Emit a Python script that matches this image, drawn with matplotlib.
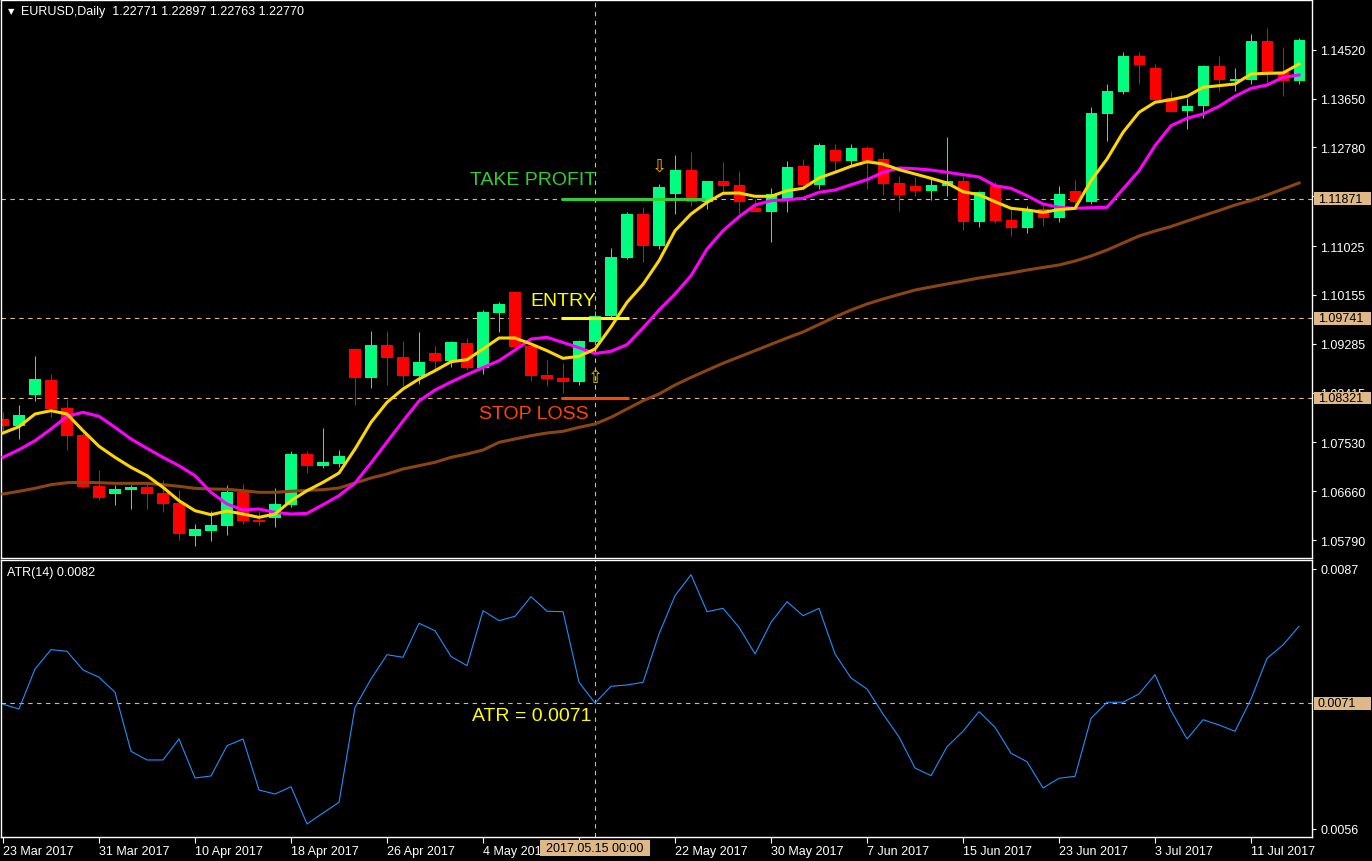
import matplotlib
matplotlib.use('Agg')
import matplotlib.pyplot as plt
import matplotlib.transforms as mtransforms
from matplotlib.patches import Rectangle
import numpy as np
import pandas as pd

# EURUSD daily candles, 23 Mar 2017 - 14 Jul 2017
dates = pd.bdate_range('2017-03-23', '2017-07-14')

opens = [1.07947, 1.07822, 1.08380, 1.08641, 1.08143, 1.07662, 1.06754, 1.06617, 1.06683, 1.06737,
         1.06630, 1.06452, 1.05870, 1.05959, 1.06048, 1.06648, 1.06149, 1.06190, 1.06422, 1.07324,
         1.07116, 1.07151, 1.09193, 1.08671, 1.09264, 1.09051, 1.08718, 1.09122, 1.08979, 1.09300,
         1.08860, 1.09839, 1.10213, 1.09241, 1.08730, 1.08677, 1.08611, 1.09312, 1.09786, 1.10813,
         1.11596, 1.11032, 1.11957, 1.12379, 1.11815, 1.12183, 1.12112, 1.11703, 1.11637, 1.11863,
         1.12445, 1.12118, 1.12735, 1.12539, 1.12771, 1.12575, 1.12148, 1.12094, 1.12011, 1.12100,
         1.12178, 1.11448, 1.12089, 1.11484, 1.11341, 1.11685, 1.11519, 1.12000, 1.11815, 1.13376,
         1.13773, 1.14408, 1.14189, 1.13666, 1.13435, 1.13518, 1.14230, 1.13969, 1.13981, 1.14675,
         1.14118, 1.13969]
highs = [1.08077, 1.08196, 1.09068, 1.08748, 1.08291, 1.07698, 1.07039, 1.06778, 1.06778, 1.06808,
         1.06861, 1.06678, 1.06078, 1.06304, 1.06772, 1.06790, 1.06315, 1.06719, 1.07383, 1.07383,
         1.07787, 1.07395, 1.09211, 1.09519, 1.09519, 1.09341, 1.09501, 1.09241, 1.09335, 1.09389,
         1.09887, 1.10024, 1.10225, 1.09247, 1.08997, 1.08938, 1.09353, 1.09875, 1.10991, 1.11637,
         1.11715, 1.12130, 1.12646, 1.12694, 1.12183, 1.12516, 1.12356, 1.11863, 1.12053, 1.12534,
         1.12575, 1.12854, 1.12837, 1.12842, 1.12812, 1.12694, 1.12278, 1.12249, 1.12249, 1.12972,
         1.12278, 1.12011, 1.12160, 1.11685, 1.11744, 1.11756, 1.12089, 1.12201, 1.13506, 1.13910,
         1.14474, 1.14474, 1.14266, 1.13791, 1.13655, 1.14254, 1.14414, 1.14195, 1.14805, 1.14907,
         1.14563, 1.14729]
lows = [1.07739, 1.07591, 1.08273, 1.07983, 1.07401, 1.06724, 1.06511, 1.06422, 1.06350, 1.06350,
        1.06297, 1.05799, 1.05692, 1.05781, 1.05888, 1.06078, 1.06066, 1.06030, 1.06375, 1.06986,
        1.07075, 1.07093, 1.08202, 1.08499, 1.08552, 1.08540, 1.08570, 1.08837, 1.08878, 1.08819,
        1.08748, 1.09490, 1.09229, 1.08629, 1.08534, 1.08404, 1.08552, 1.09282, 1.09763, 1.10795,
        1.10747, 1.10973, 1.11596, 1.11744, 1.11685, 1.11982, 1.11596, 1.11632, 1.11092, 1.11637,
        1.12041, 1.12041, 1.12338, 1.12456, 1.12041, 1.11934, 1.11655, 1.11922, 1.11845, 1.11922,
        1.11317, 1.11370, 1.11430, 1.11199, 1.11263, 1.11388, 1.11448, 1.11744, 1.11774, 1.12901,
        1.13732, 1.13910, 1.13584, 1.13412, 1.13109, 1.13299, 1.13791, 1.13791, 1.13910, 1.13910,
        1.13702, 1.13910]
closes = [1.07822, 1.08018, 1.08659, 1.08125, 1.07650, 1.06742, 1.06541, 1.06701, 1.06742, 1.06612,
          1.06439, 1.05905, 1.05989, 1.06060, 1.06648, 1.06137, 1.06119, 1.06434, 1.07324, 1.07116,
          1.07182, 1.07288, 1.08671, 1.09264, 1.09033, 1.08712, 1.08962, 1.08985, 1.09318, 1.08855,
          1.09852, 1.09989, 1.09234, 1.08712, 1.08664, 1.08611, 1.09341, 1.09786, 1.10836, 1.11596,
          1.11032, 1.12077, 1.12379, 1.11815, 1.12183, 1.12100, 1.11804, 1.11637, 1.11952, 1.12433,
          1.12112, 1.12824, 1.12539, 1.12771, 1.12545, 1.12135, 1.11940, 1.12011, 1.12112, 1.12178,
          1.11448, 1.11982, 1.11477, 1.11341, 1.11667, 1.11519, 1.11952, 1.11815, 1.13388, 1.13785,
          1.14408, 1.14254, 1.13625, 1.13417, 1.13513, 1.14230, 1.13981, 1.13999, 1.14675, 1.14118,
          1.13969, 1.14693]

# moving averages (yellow fast, magenta mid, brown slow)
ma_fast = [1.07698, 1.07810, 1.08036, 1.08095, 1.08036, 1.07739, 1.07461, 1.07265, 1.07087, 1.06938,
           1.06731, 1.06493, 1.06315, 1.06244, 1.06309, 1.06256, 1.06197, 1.06256, 1.06493, 1.06671,
           1.06820, 1.06986, 1.07413, 1.07888, 1.08244, 1.08481, 1.08659, 1.08807, 1.08967, 1.09003,
           1.09193, 1.09389, 1.09389, 1.09282, 1.09163, 1.09027, 1.09063, 1.09193, 1.09585, 1.10024,
           1.10345, 1.10765, 1.11299, 1.11596, 1.11804, 1.11964, 1.11970, 1.11911, 1.11911, 1.12011,
           1.12053, 1.12237, 1.12338, 1.12445, 1.12527, 1.12486, 1.12385, 1.12308, 1.12231, 1.12148,
           1.11993, 1.11940, 1.11815, 1.11697, 1.11667, 1.11626, 1.11673, 1.11697, 1.12189, 1.12575,
           1.13050, 1.13406, 1.13584, 1.13631, 1.13691, 1.13851, 1.13880, 1.13910, 1.14088, 1.14100,
           1.14106, 1.14266]
ma_mid = [1.07265, 1.07401, 1.07561, 1.07769, 1.07995, 1.08066, 1.07995, 1.07799, 1.07591, 1.07425,
          1.07265, 1.07116, 1.06938, 1.06642, 1.06434, 1.06327, 1.06345, 1.06286, 1.06256, 1.06268,
          1.06422, 1.06582, 1.06808, 1.07164, 1.07538, 1.07911, 1.08267, 1.08463, 1.08606, 1.08739,
          1.08862, 1.08985, 1.09175, 1.09371, 1.09401, 1.09309, 1.09216, 1.09113, 1.09152, 1.09271,
          1.09567, 1.09887, 1.10172, 1.10498, 1.10973, 1.11299, 1.11548, 1.11756, 1.11833, 1.11851,
          1.11875, 1.11982, 1.12023, 1.12118, 1.12207, 1.12338, 1.12415, 1.12402, 1.12379, 1.12338,
          1.12296, 1.12255, 1.12100, 1.12053, 1.11922, 1.11774, 1.11715, 1.11697, 1.11708, 1.11715,
          1.12041, 1.12367, 1.12812, 1.13168, 1.13299, 1.13376, 1.13513, 1.13691, 1.13833, 1.13892,
          1.14029, 1.14070]
ma_slow = [1.06612, 1.06660, 1.06713, 1.06778, 1.06813, 1.06820, 1.06813, 1.06802, 1.06802, 1.06802,
           1.06778, 1.06749, 1.06713, 1.06701, 1.06696, 1.06671, 1.06642, 1.06642, 1.06660, 1.06678,
           1.06689, 1.06719, 1.06808, 1.06897, 1.06968, 1.07057, 1.07116, 1.07176, 1.07265, 1.07324,
           1.07395, 1.07532, 1.07591, 1.07650, 1.07698, 1.07728, 1.07799, 1.07858, 1.07977, 1.08125,
           1.08273, 1.08392, 1.08552, 1.08687, 1.08814, 1.08940, 1.09051, 1.09163, 1.09277, 1.09389,
           1.09496, 1.09629, 1.09763, 1.09887, 1.09994, 1.10083, 1.10163, 1.10243, 1.10297, 1.10350,
           1.10403, 1.10457, 1.10501, 1.10546, 1.10599, 1.10644, 1.10688, 1.10759, 1.10848, 1.10955,
           1.11080, 1.11204, 1.11293, 1.11373, 1.11471, 1.11566, 1.11658, 1.11756, 1.11836, 1.11934,
           1.12041, 1.12148]

atr = [0.007087, 0.007031, 0.007508, 0.007738, 0.007719, 0.007496, 0.007409, 0.007230, 0.006526, 0.006423,
       0.006423, 0.006673, 0.006208, 0.006232, 0.006593, 0.006673, 0.006065, 0.006017, 0.006104, 0.005660,
       0.005791, 0.005918, 0.007051, 0.007388, 0.007678, 0.007647, 0.008053, 0.007964, 0.007657, 0.007547,
       0.008203, 0.008084, 0.008136, 0.008370, 0.008196, 0.008191, 0.007349, 0.007102, 0.007301, 0.007317,
       0.007349, 0.007925, 0.008382, 0.008632, 0.008191, 0.008231, 0.008005, 0.007687, 0.008064, 0.008310,
       0.008143, 0.008231, 0.007687, 0.007400, 0.007269, 0.006971, 0.006697, 0.006327, 0.006236, 0.006581,
       0.006765, 0.006999, 0.006813, 0.006503, 0.006402, 0.006089, 0.006205, 0.006228, 0.006920, 0.007111,
       0.007111, 0.007210, 0.007440, 0.007011, 0.006673, 0.006903, 0.006840, 0.006765, 0.007150, 0.007635,
       0.007794, 0.008017]

price_ticks = [1.14520, 1.13650, 1.12780, 1.11910, 1.11025, 1.10155, 1.09285, 1.08415, 1.07530, 1.06660, 1.05790]
atr_ticks = [0.0087, 0.0056]

take_profit = 1.11871
entry = 1.09741
stop_loss = 1.08321
atr_level = 0.0071
signal_bar = 37

plt.rcParams['font.family'] = ['Liberation Sans', 'DejaVu Sans']

W, H = 1372, 862
fig = plt.figure(figsize=(W / 100, H / 100), dpi=100, facecolor='black')
ax = fig.add_axes([1 / W, 1 - 559 / H, 1311 / W, 558 / H], facecolor='black')
ax2 = fig.add_axes([1 / W, 1 - 838 / H, 1311 / W, 277 / H], facecolor='black')

x = np.arange(len(opens))
o = np.array(opens)
c = np.array(closes)
up = c >= o
colors = np.where(up, '#00ff80', '#ff0000')

# candles
ax.vlines(x, lows, highs, colors=colors, lw=0.75, zorder=2)
body = np.maximum(np.abs(c - o), 0.00012)
ax.bar(x, body, bottom=np.minimum(o, c), width=0.69, color=colors, linewidth=0, zorder=2)

# moving averages
ax.plot(x, ma_slow, color='#8b4513', lw=2.2, zorder=3)
ax.plot(x, ma_mid, color='#ff00ff', lw=2.2, zorder=3)
ax.plot(x, ma_fast, color='#ffd700', lw=2.2, zorder=3)

# dashed levels and crosshair
dash = dict(color='#deb887', lw=0.8, ls=(0, (4, 4)), zorder=1)
for lvl in (take_profit, entry, stop_loss):
    ax.axhline(lvl, **dash)
ax.axvline(signal_bar, **dash)
ax2.axhline(atr_level, **dash)
ax2.axvline(signal_bar, **dash)

# trade annotations
ax.hlines(take_profit, 34.9, 43.9, color='#32cd32', lw=2.2, zorder=4)
ax.hlines(entry, 34.9, 39.1, color='#ffff00', lw=2.2, zorder=4)
ax.hlines(stop_loss, 34.9, 39.1, color='#ff4500', lw=2.2, zorder=4)
ax.text(37.1, take_profit + 0.0034, 'TAKE PROFIT', color='#32cd32', fontsize=14,
        ha='right', va='center', zorder=5)
ax.text(37.1, entry + 0.0032, 'ENTRY', color='#ffff00', fontsize=14,
        ha='right', va='center', zorder=5)
ax.text(36.6, stop_loss - 0.0027, 'STOP LOSS', color='#ff4500', fontsize=14,
        ha='right', va='center', zorder=5)
ax.text(signal_bar, 1.0870, '\u21e7', color='#d8c000', fontsize=13,
        ha='center', va='center', family='DejaVu Sans', zorder=5)
ax.text(41, 1.1246, '\u21e9', color='#ffa500', fontsize=13,
        ha='center', va='center', family='DejaVu Sans', zorder=5)

# ATR
ax2.plot(x, atr, color='#1e90ff', lw=0.8, zorder=3)
ax2.text(36.75, 0.00695, 'ATR = 0.0071', color='#ffff00', fontsize=14,
         ha='right', va='center', zorder=5)

# axes styling
xlim = (-0.125, 81.81)
for a in (ax, ax2):
    a.set_xlim(*xlim)
    for s in a.spines.values():
        s.set_color('white')
        s.set_linewidth(1)
    a.yaxis.tick_right()
    a.tick_params(axis='y', colors='white', labelsize=9, length=3, pad=3, width=0.8)

ax.set_ylim(1.05473, 1.15405)
ax.set_yticks(price_ticks)
ax.set_yticklabels([f'{v:.5f}' for v in price_ticks])
ax.set_xticks([])

ax2.set_ylim(0.0055046, 0.008807)
ax2.set_yticks(atr_ticks)
ax2.set_yticklabels([f'{v:.4f}' for v in atr_ticks])

# date ticks every 6 bars; the one under the crosshair box is hidden
tick_idx = list(range(0, len(dates), 6))
tick_lab = ['' if abs(i - signal_bar) < 3 else f'{dates[i].day} {dates[i]:%b %Y}' for i in tick_idx]
ax2.set_xticks(tick_idx)
ax2.set_xticklabels(tick_lab, ha='left')
ax2.tick_params(axis='x', colors='white', labelsize=9, length=4, pad=1.5, width=0.8)


def value_box(a, val, txt, h):
    tr = mtransforms.blended_transform_factory(a.transAxes, a.transData)
    a.add_patch(Rectangle((1 + 2 / 1311, val - h / 2), 57 / 1311, h, transform=tr,
                          fc='#deb887', ec='none', clip_on=False, zorder=10))
    a.text(1 + 6 / 1311, val, txt, transform=tr, color='black', fontsize=9,
           ha='left', va='center', clip_on=False, zorder=11)


value_box(ax, take_profit, f'{take_profit:.5f}', 0.00231)
value_box(ax, entry, f'{entry:.5f}', 0.00231)
value_box(ax, stop_loss, f'{stop_loss:.5f}', 0.00231)
value_box(ax2, atr_level, f'{atr_level:.4f}', 0.000155)

# crosshair date box under the time axis
tr2 = mtransforms.blended_transform_factory(ax2.transData, ax2.transAxes)
ax2.add_patch(Rectangle((signal_bar - 55 / 16, -19 / 277), 110 / 16, 16 / 277, transform=tr2,
                        fc='#deb887', ec='none', clip_on=False, zorder=10))
ax2.text(signal_bar, -11 / 277, f'{dates[signal_bar]:%Y.%m.%d %H:%M}', transform=tr2,
         color='black', fontsize=9, ha='center', va='center', clip_on=False, zorder=11)

# header texts
fig.text(8 / W, 1 - 12 / H, '\u25bc', color='white', fontsize=6, va='center', family='DejaVu Sans')
fig.text(21 / W, 1 - 12 / H, 'EURUSD,Daily  1.22771 1.22897 1.22763 1.22770',
         color='white', fontsize=9, va='center')
fig.text(7 / W, 1 - 573 / H, 'ATR(14) 0.0082', color='white', fontsize=9, va='center')

fig.savefig('out.png', dpi=100, facecolor='black')
